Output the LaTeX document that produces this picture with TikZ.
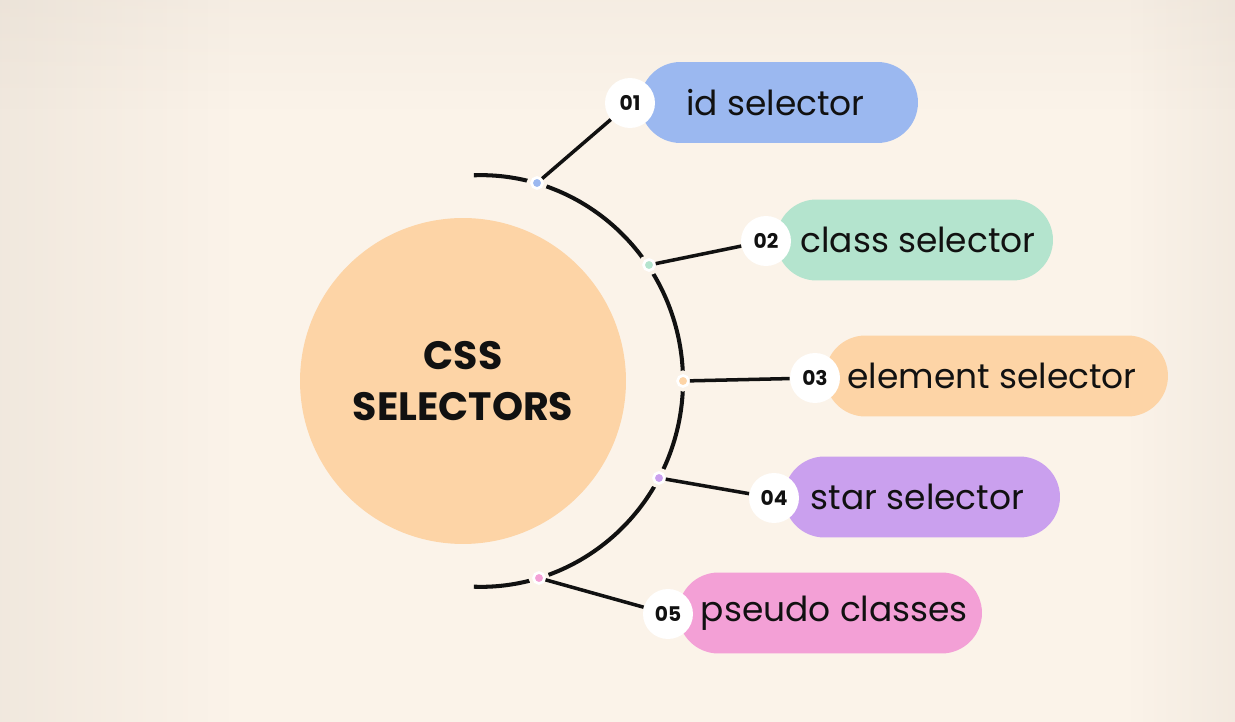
\documentclass[tikz,border=0pt]{standalone}
\usepackage{fontspec}
\setmainfont{Poppins}
\usetikzlibrary{fadings}
\definecolor{bg}{RGB}{251,243,233}
\definecolor{shadowc}{RGB}{205,195,183}
\definecolor{peach}{RGB}{253,212,166}
\definecolor{cblue}{RGB}{155,184,240}
\definecolor{cgreen}{RGB}{180,228,206}
\definecolor{cpurple}{RGB}{202,160,238}
\definecolor{cpink}{RGB}{243,160,214}
\definecolor{ink}{RGB}{17,17,17}
\tikzset{
  pill/.style={rectangle, rounded corners=0.81cm, minimum height=1.62cm, inner sep=0pt,
    font=\fontsize{19.6}{24}\selectfont, text=ink},
  num/.style={circle, fill=white, minimum size=1cm, inner sep=0pt,
    font=\bfseries\fontsize{11.5}{13}\selectfont, text=ink},
  dot/.style={circle, fill=#1, draw=white, line width=1.5pt, minimum size=0.22cm, inner sep=0pt,
    preaction={draw=bg, line width=5.5pt}},
  conn/.style={line width=2pt, ink},
  arcline/.style={line width=2.3pt, ink},
  hubstyle/.style={circle, fill=peach, minimum size=6.52cm, inner sep=0pt, align=center,
    font=\bfseries\fontsize{22.5}{29}\selectfont, text=ink}
}
\begin{document}
\begin{tikzpicture}[x=0.02cm, y=-0.02cm]
\useasboundingbox (0,0) rectangle (1235,722);
% background
\fill[bg] (0,0) rectangle (1235,722);
\fill[shadowc, opacity=0.22, path fading=east] (0,0) rectangle (230,722);
\fill[shadowc, opacity=0.18, path fading=west] (1130,0) rectangle (1235,722);
\fill[shadowc, opacity=0.12, path fading=south] (0,0) rectangle (1235,110);
% hub
\node[hubstyle] (hub) at (463,381) {CSS\\SELECTORS};
% arc
\draw[arcline] plot[domain=87:-87, samples=59, smooth]
  ({463+(220-14*(\x/87)*(\x/87))*cos(\x)}, {381-(220-14*(\x/87)*(\x/87))*sin(\x)});
% dots on the arc
\node[dot=cblue]   (d1) at (537,183) {};
\node[dot=cgreen]  (d2) at (649,265) {};
\node[dot=peach]   (d3) at (683,381) {};
\node[dot=cpurple] (d4) at (659,478) {};
\node[dot=cpink]   (d5) at (539,578) {};
% pills
\node[pill, fill=cblue,   minimum width=5.56cm] (p1) at (779,102.5) {id selector\hspace*{4pt}};
\node[pill, fill=cgreen,  minimum width=5.54cm] (p2) at (914.5,240) {\hspace*{4pt}class selector};
\node[pill, fill=peach,   minimum width=6.86cm] (p3) at (996.5,376) {element selector\hspace*{5pt}};
\node[pill, fill=cpurple, minimum width=5.52cm] (p4) at (922,497) {star selector\hspace*{5pt}};
\node[pill, fill=cpink,   minimum width=6.08cm] (p5) at (830,613) {\hspace*{5pt}pseudo classes};
% number badges
\node[num] (n1) at (630,103) {01};
\node[num] (n2) at (766,241) {02};
\node[num] (n3) at (815,378) {03};
\node[num] (n4) at (774,498) {04};
\node[num] (n5) at (668,614) {05};
% connectors
\draw[conn] (d1) -- (n1);
\draw[conn] (d2) -- (n2);
\draw[conn] (d3) -- (n3);
\draw[conn] (d4) -- (n4);
\draw[conn] (d5) -- (n5);
\end{tikzpicture}
\end{document}
